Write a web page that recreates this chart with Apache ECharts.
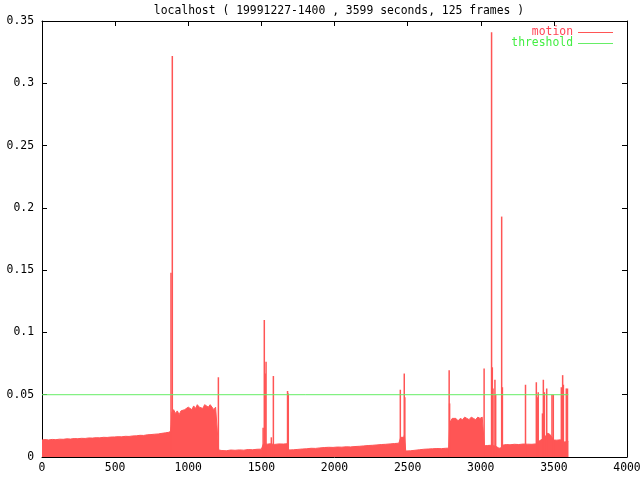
<!DOCTYPE html>
<html><head><meta charset="utf-8">
<script src="https://cdn.jsdelivr.net/npm/echarts@6/dist/echarts.min.js"></script>
<style>html,body{margin:0;padding:0;background:#fff}#c{width:640px;height:480px}</style>
</head><body><div id="c"></div>
<script>
const titleText = 'localhost ( 19991227-1400 , 3599 seconds, 125 frames )';
// motion level between events (seconds, value)
const baseSeconds = [0,20,45,70,95,120,145,170,195,220,245,270,295,320,345,370,395,420,445,470,495,520,545,570,595,620,645,670,695,720,745,770,795,820,845,865,879,
 883,888,900,912,925,938,950,962,975,988,1000,1012,1025,1037,1050,1062,1075,1087,1100,1112,1125,1137,1150,1162,1175,1187,1200,1204,
 1208,1230,1260,1290,1320,1350,1380,1410,1440,1470,1500,1508,
 1514,1540,1560,1590,1620,1650,1676,
 1688,1720,1750,1780,1810,1840,1870,1900,1930,1960,1990,2020,2050,2080,2110,2140,2170,2200,2230,2260,2290,2320,2350,2380,2410,2440,2448,
 2453,2465,2474,2478,2483,
 2487,2520,2550,2580,2610,2640,2670,2700,2730,2760,2781,
 2788,2795,2805,2815,2830,2845,2860,2875,2890,2905,2920,2935,2950,2965,2980,2995,3010,3020,
 3025,3045,3065,3090,3105,3110,3125,3140,3150,3175,3200,3230,3260,3290,3320,3350,3375,3390,3398,3415,3440,3455,3470,3482,3500,3520,3545,3568,3582,3599];
const baseMotion = [0.0136,0.0140,0.0137,0.0141,0.0139,0.0143,0.0142,0.0146,0.0144,0.0148,0.0147,0.0150,0.0149,0.0153,0.0152,0.0155,0.0154,0.0158,0.0157,0.0160,0.0161,0.0163,0.0162,0.0166,0.0165,0.0169,0.0170,0.0174,0.0173,0.0178,0.0180,0.0183,0.0185,0.0190,0.0194,0.0198,0.0205,
 0.026,0.036,0.038,0.035,0.037,0.034,0.037,0.036,0.038,0.037,0.040,0.041,0.038,0.041,0.039,0.042,0.040,0.041,0.039,0.042,0.043,0.040,0.042,0.041,0.038,0.040,0.039,0.039,
 0.0056,0.0052,0.0050,0.0056,0.0054,0.0057,0.0055,0.0060,0.0058,0.0062,0.0063,0.0064,
 0.0105,0.0103,0.0106,0.0101,0.0105,0.0104,0.0106,
 0.0056,0.0058,0.0061,0.0064,0.0066,0.0070,0.0069,0.0073,0.0076,0.0078,0.0077,0.0080,0.0079,0.0082,0.0081,0.0084,0.0086,0.0089,0.0092,0.0094,0.0097,0.0100,0.0102,0.0105,0.0108,0.0111,0.0112,
 0.0158,0.0160,0.0158,0.0176,0.0176,
 0.0048,0.0050,0.0054,0.0058,0.0062,0.0064,0.0066,0.0068,0.0067,0.0070,0.0071,
 0.027,0.029,0.031,0.030,0.031,0.029,0.031,0.030,0.032,0.031,0.030,0.032,0.031,0.030,0.032,0.031,0.032,0.032,
 0.0090,0.0092,0.0094,0.0090,0.0085,0.0072,0.0070,0.0074,0.0095,0.0100,0.0098,0.0102,0.0100,0.0104,0.0103,0.0102,0.0105,0.0120,0.0136,0.0140,0.0160,0.0190,0.0185,0.0170,0.0136,0.0135,0.0138,0.0120,0.0122,0.0125];
// short motion events (seconds, value)
const spikeSeconds = [882,891,1206,1512,1520,1526,1532,1568,1582,1679,1684,2450,2477,2481,2784,2787,3023,3074,3079,3084,3097,3102,3143,3148,3306,3380,3386,3393,3422,3428,3435,3451,3487,3496,3551,3560,3565,3585,3593];
const spikeMotion = [0.148,0.322,0.064,0.0235,0.110,0.067,0.0764,0.0158,0.065,0.053,0.051,0.054,0.067,0.048,0.0697,0.043,0.071,0.341,0.072,0.055,0.062,0.050,0.193,0.056,0.058,0.060,0.048,0.052,0.035,0.062,0.052,0.055,0.050,0.050,0.056,0.0657,0.058,0.055,0.055];
const thresholdSeconds = [0, 3599];
const thresholdMotion = [0.05, 0.05];
const xMin = 0, xMax = 4000, xStep = 500;
const yMin = 0, yMax = 0.35, yStep = 0.05;

const font = 'DejaVu Sans Mono';
const fs = 11.4;
const red = '#ff5555';
const green = '#66ee66';
const zip = (a, b) => a.map((v, i) => [v, b[i]]);

const chart = echarts.init(document.getElementById('c'), null, {renderer: 'canvas'});
const axisCommon = {
  axisLine: {show: true, onZero: false, lineStyle: {color: '#000', width: 1}},
  axisTick: {show: true, inside: true, length: 5, lineStyle: {color: '#000'}},
  splitLine: {show: false},
  axisLabel: {fontFamily: font, fontSize: fs, color: '#000'}
};
chart.setOption({
  animation: false,
  backgroundColor: '#fff',
  title: {text: titleText, left: 334, textAlign: 'center', top: 1,
    textStyle: {fontFamily: font, fontSize: fs, fontWeight: 'normal', color: '#000'}},
  grid: {left: 42, right: 13, top: 21, bottom: 23, show: false, outerBoundsMode: 'none', containLabel: false},
  legend: {
    right: 22, top: 22, orient: 'vertical', align: 'right', icon: 'rect',
    itemWidth: 35, itemHeight: 1, itemGap: 0,
    textStyle: {fontFamily: font, fontSize: fs, lineHeight: 10.5},
    data: [
      {name: 'motion', textStyle: {color: '#ff4455'}},
      {name: 'threshold', textStyle: {color: '#44ee44'}}
    ]
  },
  xAxis: [
    Object.assign({}, axisCommon, {type: 'value', min: xMin, max: xMax, interval: xStep, position: 'bottom',
      axisLabel: Object.assign({}, axisCommon.axisLabel, {margin: 6, formatter: v => String(v)})}),
    Object.assign({}, axisCommon, {type: 'value', min: xMin, max: xMax, interval: xStep, position: 'top',
      axisLabel: {show: false}})
  ],
  yAxis: [
    Object.assign({}, axisCommon, {type: 'value', min: yMin, max: yMax, interval: yStep, position: 'left',
      axisLabel: Object.assign({}, axisCommon.axisLabel, {margin: 8,
        formatter: v => String(Math.round(v * 100) / 100)})}),
    Object.assign({}, axisCommon, {type: 'value', min: yMin, max: yMax, interval: yStep, position: 'right',
      axisLabel: {show: false}})
  ],
  series: [
    {name: 'motion', type: 'line', data: zip(baseSeconds, baseMotion), symbol: 'none',
      lineStyle: {color: red, width: 1}, itemStyle: {color: red},
      areaStyle: {color: red, opacity: 1}, z: 2},
    {name: 'motion events', type: 'bar', data: zip(spikeSeconds, spikeMotion), barWidth: 1.5,
      itemStyle: {color: red}, z: 3},
    {name: 'threshold', type: 'line', data: zip(thresholdSeconds, thresholdMotion), symbol: 'none',
      lineStyle: {color: green, width: 1}, itemStyle: {color: green}, z: 5}
  ]
});
</script></body></html>
